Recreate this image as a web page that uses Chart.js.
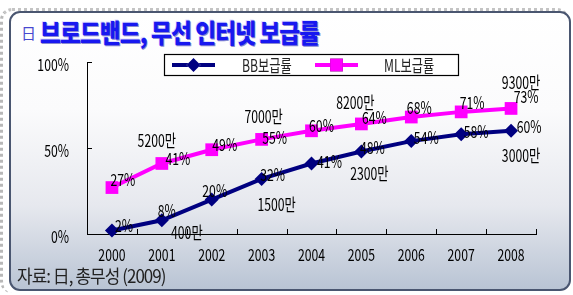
<!DOCTYPE html>
<html>
<head>
<meta charset="utf-8">
<script src="https://cdn.jsdelivr.net/npm/chart.js@4"></script>
<style>
  html, body { margin: 0; padding: 0; background: #fff; }
  #wrap { position: relative; width: 573px; height: 295px; overflow: hidden; }
  #shadow { position: absolute; left: 0; top: 8px; width: 566px; height: 282px;
    border-left: 3px dotted #b8b8b8; border-top: 3px dotted #c4c4c4; border-radius: 12px; }
  #panel { position: absolute; left: 9px; top: 11px; width: 558px; height: 276px;
    border: 2px solid #4a5670; border-radius: 11px;
    background: linear-gradient(to bottom, #ffffff 0%, #fbfbfc 35%, #e6e8ee 70%, #b9c4d4 100%); }
  #title { position: absolute; left: 21px; top: 13px; white-space: nowrap;
    font-family: "Noto Sans CJK KR", sans-serif; color: #1818f0; }
  #title .ji { font-size: 15px; color: #4848d0; vertical-align: 4px; }
  #title .main { display: inline-block; margin-left: 4px; font-size: 26px; font-weight: 900; letter-spacing: -1px;
    transform: scaleX(0.87); transform-origin: left center;
    text-shadow: 1px 1px 0 #8a8ad0, -1px -1px 0 #e0e0ff; }
  #src { position: absolute; left: 17px; top: 265px; white-space: nowrap;
    font-family: "Noto Sans CJK KR", sans-serif; font-size: 18px; color: #222;
    letter-spacing: -1px; transform: scaleX(0.94); transform-origin: left center; line-height: 1.2; }
  canvas { position: absolute; left: 0; top: 0; }
</style>
</head>
<body>
<div id="wrap">
  <div id="shadow"></div>
  <div id="panel"></div>
  <div id="title"><span class="ji">日</span><span class="main">브로드밴드, 무선 인터넷 보급률</span></div>
  <canvas id="chart" width="573" height="295"></canvas>
  <div id="src">자료: 日, 총무성 (2009)</div>
</div>
<script>
const years = ['2000', '2001', '2002', '2003', '2004', '2005', '2006', '2007', '2008'];
const bbRate = [2, 8, 20, 32, 41, 48, 54, 58, 60];
const mlRate = [27, 41, 49, 55, 60, 64, 68, 71, 73];
const bbUsers = ['', '400만', '', '1500만', '', '2300만', '', '', '3000만'];
const mlUsers = ['', '5200만', '', '7000만', '', '8200만', '', '', '9300만'];
const yTicks = [0, 50, 100];

// label offsets from each point (style only)
const bbRateOff = [[12, -5], [5, -10], [3, -9], [11, -4], [18, -2], [11, -4], [15, -4], [15, -3], [18, -4]];
const mlRateOff = [[11, -8], [16, -5], [13, -5], [13, -2], [10, -5], [13, -6], [8, -9], [11, -9], [15, -12]];
const bbUsersOff = [null, [25, 12], null, [15, 26], null, [8, 22], null, null, [10, 25]];
const mlUsersOff = [null, [-5, -23], null, [2, -23], null, [-6, -21], null, null, [10, -26]];

const FONT = '17px "Noto Sans CJK KR", sans-serif';
const SQUEEZE = 0.72;

// narrow text, like the condensed face of the original
function narrowText(ctx, text, x, y, align) {
    ctx.save();
    ctx.translate(x, y);
    ctx.scale(SQUEEZE, 1);
    ctx.font = FONT;
    ctx.textAlign = align || 'center';
    ctx.textBaseline = 'middle';
    ctx.fillText(text, 0, 0);
    ctx.restore();
}

const labelPlugin = {
    id: 'labels',
    afterDatasetsDraw(chart) {
        const ctx = chart.ctx;
        ctx.save();
        ctx.fillStyle = '#000';
        const sets = [
            [0, bbRate.map(v => v + '%'), bbRateOff],
            [1, mlRate.map(v => v + '%'), mlRateOff],
            [0, bbUsers, bbUsersOff],
            [1, mlUsers, mlUsersOff]
        ];
        sets.forEach(([di, texts, offs]) => {
            const pts = chart.getDatasetMeta(di).data;
            texts.forEach((t, i) => {
                if (!t) return;
                narrowText(ctx, t, pts[i].x + offs[i][0], pts[i].y + offs[i][1]);
            });
        });
        ctx.restore();
    }
};

// tick marks pointing into the plot, and the tick labels
const axisPlugin = {
    id: 'axisMarks',
    afterDraw(chart) {
        const ctx = chart.ctx;
        const x = chart.scales.x, y = chart.scales.y;
        const step = x.getPixelForValue(1) - x.getPixelForValue(0);
        ctx.save();
        ctx.strokeStyle = '#000';
        ctx.lineWidth = 1;
        ctx.beginPath();
        for (let i = 0; i <= years.length; i++) {
            const px = Math.round(x.getPixelForValue(i) - step / 2) + 0.5;
            ctx.moveTo(px, y.bottom);
            ctx.lineTo(px, y.bottom - 5);
        }
        yTicks.forEach(v => {
            const py = Math.round(y.getPixelForValue(v)) + 0.5;
            ctx.moveTo(x.left, py);
            ctx.lineTo(x.left + 5, py);
        });
        ctx.stroke();
        ctx.fillStyle = '#000';
        years.forEach((t, i) => narrowText(ctx, t, x.getPixelForValue(i), y.bottom + 21));
        yTicks.forEach(v => narrowText(ctx, v + '%', x.left - 18, y.getPixelForValue(v) + 3, 'right'));
        ctx.restore();
    }
};

const legendBox = {
    id: 'legendBox',
    afterDraw(chart) {
        const ctx = chart.ctx;
        const ds = chart.data.datasets;
        ctx.save();
        ctx.fillStyle = '#fff';
        ctx.fillRect(164, 54, 294, 21);
        ctx.strokeStyle = '#000';
        ctx.lineWidth = 1.2;
        ctx.strokeRect(164.5, 54.5, 294, 21);
        const items = [[172, 215, 242], [315, 358, 384]];
        items.forEach(([x0, x1, tx], i) => {
            const d = ds[i];
            ctx.strokeStyle = d.borderColor;
            ctx.lineWidth = d.borderWidth;
            ctx.beginPath();
            ctx.moveTo(x0, 65);
            ctx.lineTo(x1, 65);
            ctx.stroke();
            Chart.helpers.drawPoint(ctx, {
                pointStyle: d.pointStyle, radius: d.pointRadius, borderWidth: 0, rotation: 0
            }, (x0 + x1) / 2, 65);
            ctx.fillStyle = d.backgroundColor;
            ctx.fill();
            ctx.fillStyle = '#222';
            narrowText(ctx, d.label, tx, 66, 'left');
        });
        ctx.restore();
    }
};

new Chart(document.getElementById('chart'), {
    type: 'line',
    data: {
        labels: years,
        datasets: [
            {
                label: 'BB보급률',
                data: bbRate,
                borderColor: '#000080',
                backgroundColor: '#000080',
                borderWidth: 4,
                pointStyle: 'rectRot',
                pointRadius: 7,
                pointBorderWidth: 0,
                tension: 0,
                clip: false
            },
            {
                label: 'ML보급률',
                data: mlRate,
                borderColor: '#ff00ff',
                backgroundColor: '#ff00ff',
                borderWidth: 4,
                pointStyle: 'rect',
                pointRadius: 9,
                pointBorderWidth: 0,
                tension: 0,
                clip: false
            }
        ]
    },
    options: {
        responsive: false,
        animation: false,
        layout: { padding: { left: 0, right: 37, top: 62, bottom: 0 } },
        plugins: {
            legend: { display: false },
            tooltip: { enabled: false }
        },
        scales: {
            x: {
                offset: true,
                grid: { display: false },
                border: { display: true, color: '#000', width: 1 },
                ticks: { color: 'rgba(0,0,0,0)', maxRotation: 0 },
                afterFit: s => { s.height = 61; }
            },
            y: {
                min: 0,
                max: 100,
                grid: { display: false },
                border: { display: true, color: '#000', width: 1 },
                ticks: { stepSize: 50, color: 'rgba(0,0,0,0)', callback: v => v + '%' },
                afterFit: s => { s.width = 87; }
            }
        }
    },
    plugins: [labelPlugin, axisPlugin, legendBox]
});
</script>
</body>
</html>
